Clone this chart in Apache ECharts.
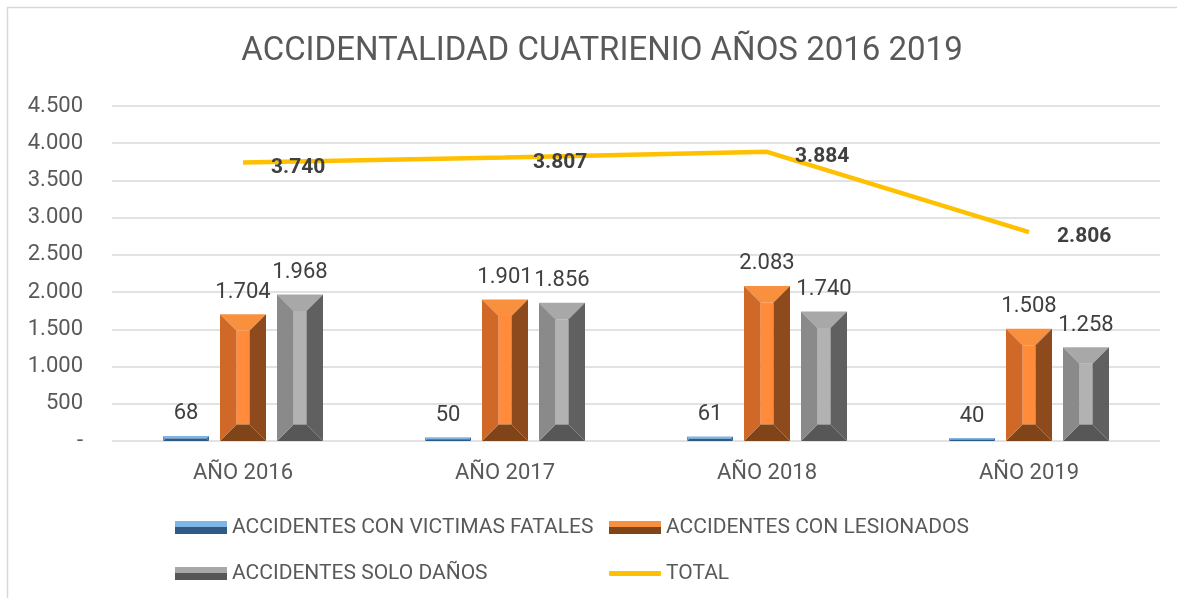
<!DOCTYPE html>
<html>
<head>
<meta charset="utf-8">
<script src="https://cdn.jsdelivr.net/npm/echarts@6/dist/echarts.min.js"></script>
<style>
  html, body { margin: 0; padding: 0; background: #fff; }
  #chart { width: 1177px; height: 598px; }
</style>
</head>
<body>
<div id="chart"></div>
<script>
const years = ["AÑO 2016", "AÑO 2017", "AÑO 2018", "AÑO 2019"];
const fatales = [68, 50, 61, 40];
const lesionados = [1704, 1901, 2083, 1508];
const soloDanos = [1968, 1856, 1740, 1258];
const total = [3740, 3807, 3884, 2806];

const FONT = "Roboto";

// separador de miles con punto
function fmt(v) {
  return String(v).replace(/\B(?=(\d{3})+(?!\d))/g, ".");
}

// colores de las caras del bisel: arriba, izquierda, centro, derecha, abajo
const palettes = [
  { top: "#7FB4E6", left: "#5A93CB", mid: "#6CA8E0", right: "#3A6690", bottom: "#2F5A85" },
  { top: "#F8903E", left: "#D06828", mid: "#FF8B3B", right: "#8C4A1D", bottom: "#7F4418" },
  { top: "#A8A8A8", left: "#8A8A8A", mid: "#B2B2B2", right: "#606060", bottom: "#575757" }
];

function bevelBar(pos, pal) {
  return function (params, api) {
    const cat = api.value(0);
    const val = api.value(1);
    const base = api.coord([cat, 0]);
    const top = api.coord([cat, val]);
    const catW = api.size([1, 0])[0];
    const bw = catW * 46 / 262;
    const step = catW * 57 / 262;
    const cx = base[0] + pos * step;
    const x0 = cx - bw / 2, x1 = cx + bw / 2;
    const y0 = top[1], y1 = base[1];
    const b = Math.min(catW * 16.5 / 262, (y1 - y0) / 2);
    const A = [x0, y0], B = [x1, y0], C = [x1, y1], D = [x0, y1];
    const a = [x0 + b, y0 + b], bb = [x1 - b, y0 + b], c = [x1 - b, y1 - b], d = [x0 + b, y1 - b];
    const poly = (pts, color) => ({ type: "polygon", shape: { points: pts }, style: { fill: color } });
    return {
      type: "group",
      children: [
        poly([a, bb, c, d], pal.mid),
        poly([A, B, bb, a], pal.top),
        poly([B, C, c, bb], pal.right),
        poly([D, C, c, d], pal.bottom),
        poly([A, D, d, a], pal.left),
        {
          type: "text",
          x: cx,
          y: y0 - 11,
          style: {
            text: fmt(val),
            fill: "#404040",
            font: "22px " + FONT,
            align: "center",
            verticalAlign: "bottom"
          }
        }
      ]
    };
  };
}

function legendGrad(pal) {
  return {
    type: "linear", x: 0, y: 0, x2: 0, y2: 1,
    colorStops: [
      { offset: 0, color: pal.top }, { offset: 0.45, color: pal.top },
      { offset: 0.45, color: pal.bottom }, { offset: 1, color: pal.bottom }
    ]
  };
}

const seriesNames = [
  "ACCIDENTES CON VICTIMAS FATALES",
  "ACCIDENTES CON LESIONADOS",
  "ACCIDENTES SOLO DAÑOS",
  "TOTAL"
];
const barData = [fatales, lesionados, soloDanos];

const legendText = { color: "#595959", fontSize: 21, fontFamily: FONT };
function legendAt(i, left, top) {
  const isLine = i === 3;
  return {
    left: left,
    top: top,
    padding: 0,
    itemWidth: 52,
    itemHeight: isLine ? 5 : 13,
    itemGap: 4,
    selectedMode: false,
    textStyle: legendText,
    data: [{
      name: seriesNames[i],
      icon: isLine ? "roundRect" : "rect",
      itemStyle: { color: isLine ? "#FFC000" : legendGrad(palettes[i]) }
    }]
  };
}

const myChart = echarts.init(document.getElementById("chart"));
const option = {
  animation: false,
  title: {
    text: "ACCIDENTALIDAD CUATRIENIO AÑOS 2016 2019",
    left: 597,
    textAlign: "center",
    top: 30,
    textStyle: { color: "#595959", fontSize: 33, fontWeight: "normal", fontFamily: FONT }
  },
  graphic: [{
    type: "rect",
    shape: { x: 7.5, y: 7.5, width: 1300, height: 700 },
    style: { fill: "none", stroke: "#D9D9D9", lineWidth: 1.5 },
    silent: true
  }],
  legend: [
    legendAt(0, 175, 517),
    legendAt(1, 609, 517),
    legendAt(2, 175, 563),
    legendAt(3, 609, 563)
  ],
  grid: { left: 112, right: 17, top: 106, bottom: 157 },
  xAxis: {
    type: "category",
    data: years,
    axisLine: { show: false },
    axisTick: { show: false },
    axisLabel: { color: "#595959", fontSize: 22, fontFamily: FONT, margin: 21 }
  },
  yAxis: {
    type: "value",
    min: 0,
    max: 4500,
    interval: 500,
    axisLine: { show: false },
    axisTick: { show: false },
    splitLine: { lineStyle: { color: "#D9D9D9", width: 1.5 } },
    axisLabel: {
      color: "#595959",
      fontSize: 22,
      fontFamily: FONT,
      margin: 29,
      formatter: v => (v === 0 ? "-" : fmt(v))
    }
  },
  series: [
    ...barData.map((vals, i) => ({
      name: seriesNames[i],
      type: "custom",
      renderItem: bevelBar(i - 1, palettes[i]),
      itemStyle: { color: palettes[i].mid },
      encode: { x: 0, y: 1 },
      data: vals.map((v, k) => [k, v]),
      z: 2
    })),
    {
      name: seriesNames[3],
      type: "line",
      data: total,
      symbol: "circle",
      symbolSize: 0,
      showSymbol: true,
      lineStyle: { color: "#FFC000", width: 4.5 },
      itemStyle: { color: "#FFC000" },
      z: 5,
      label: {
        show: true,
        position: "right",
        distance: 28,
        offset: [0, 5],
        formatter: p => fmt(p.value),
        color: "#404040",
        fontSize: 21,
        fontWeight: "bold",
        fontFamily: FONT
      }
    }
  ]
};
myChart.setOption(option);
</script>
</body>
</html>
